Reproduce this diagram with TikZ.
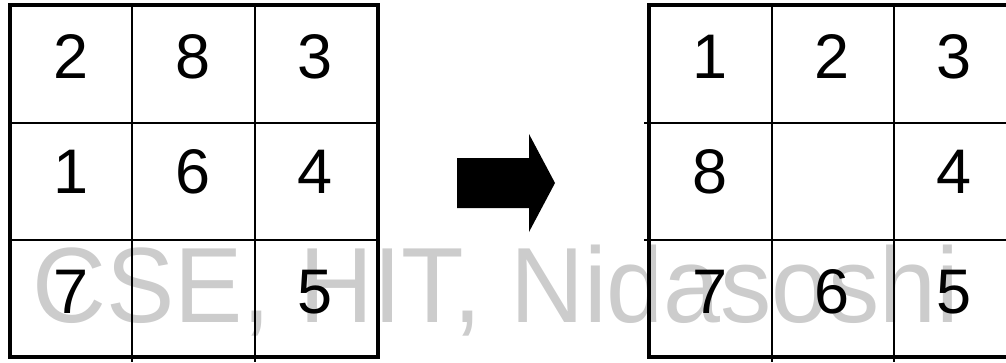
\documentclass[tikz,border=0pt]{standalone}
\usepackage{fontspec}
\setmainfont{Liberation Sans}
\usetikzlibrary{positioning}
\definecolor{wmgray}{RGB}{204,204,204}

\begin{document}
\begin{tikzpicture}[x=1pt,y=-1pt,
  num/.style={anchor=base,inner sep=0pt,font=\fontsize{63}{63}\selectfont},
  frame/.style={line width=4pt},
  cell/.style={line width=1.3pt}]
\useasboundingbox (0,0) rectangle (1006,362);
\clip (0,0) rectangle (1006,362);
% watermark behind everything
\node[anchor=base west,inner sep=0pt,text=wmgray,font=\fontsize{107}{107}\selectfont] (wm) at (32,322) {\scalebox{0.957}[1]{CSE, HIT, Nidasoshi}};
% start board
\draw[cell] (132,5) -- (132,362);
\draw[cell] (255,5) -- (255,362);
\draw[cell] (10,123) -- (378,123);
\draw[cell] (10,240) -- (378,240);
\draw[frame] (10,5) rectangle (378,357);
\node[num] (s1) at (71,78) {2};
\node[num] (s2) at (193,78) {8};
\node[num] (s3) at (315,78) {3};
\node[num] (s4) at (71,193) {1};
\node[num] (s5) at (193,193) {6};
\node[num] (s6) at (315,193) {4};
\node[num] (s7) at (71,313) {7};
\node[num] (s8) at (315,313) {5};
% move
\fill (457,158) -- (529,158) -- (529,134) -- (555,183) -- (529,232) -- (529,208) -- (457,208) -- cycle;
% goal board
\draw[cell] (772,5) -- (772,362);
\draw[cell] (894,5) -- (894,362);
\draw[cell] (644,123) -- (1016,123);
\draw[cell] (644,240) -- (1016,240);
\draw[frame] (649,5) rectangle (1016,357);
\node[num] (g1) at (710,78) {1};
\node[num] (g2) at (832,78) {2};
\node[num] (g3) at (954,78) {3};
\node[num] (g8) at (710,193) {8};
\node[num] (g4) at (954,193) {4};
\node[num] (g7) at (710,313) {7};
\node[num] (g6) at (832,313) {6};
\node[num] (g5) at (954,313) {5};
\end{tikzpicture}
\end{document}
